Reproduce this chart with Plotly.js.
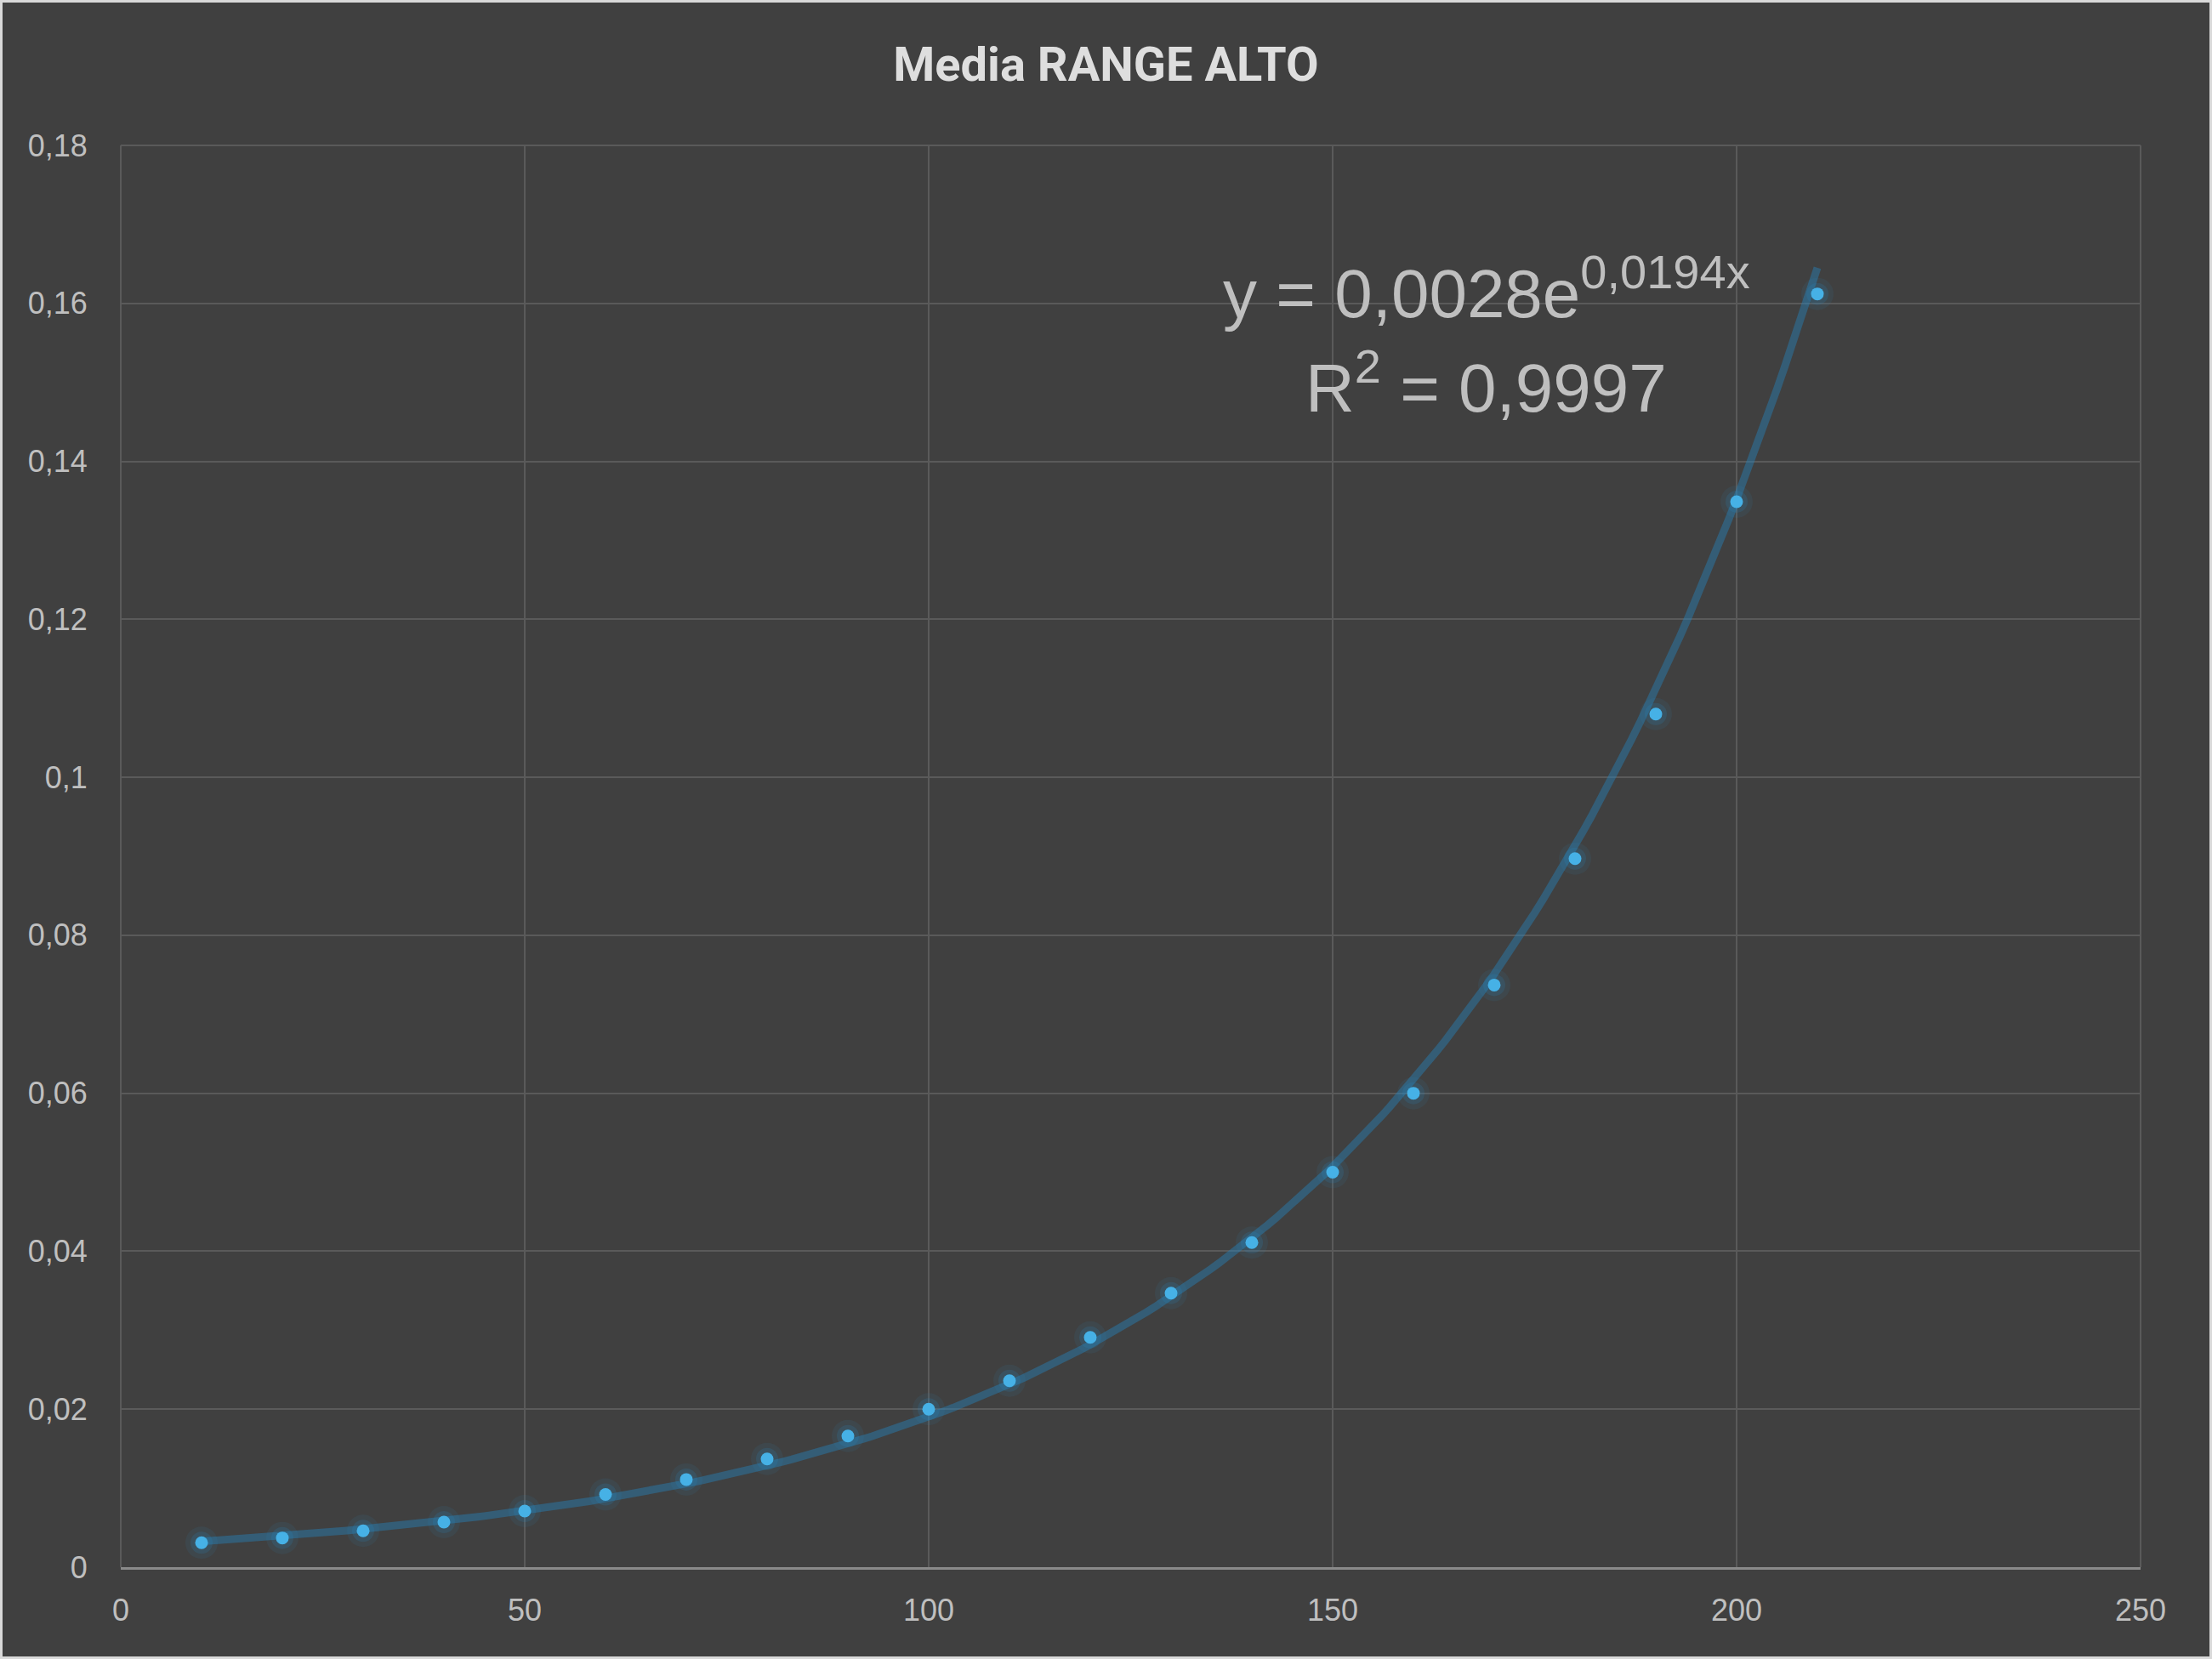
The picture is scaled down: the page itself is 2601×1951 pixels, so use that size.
<!DOCTYPE html>
<html>
<head>
<meta charset="utf-8">
<script src="https://cdn.plot.ly/plotly-3.0.1.min.js"></script>
<style>
  html, body { margin: 0; padding: 0; background: #d9d9d9; }
  #chart { position: absolute; left: 3px; top: 3px; width: 2595px; height: 1945px; }
</style>
</head>
<body>
<div id="chart"></div>
<script>
// ---- data ----
const xValues = [10, 20, 30, 40, 50, 60, 70, 80, 90, 100, 110, 120, 130, 140, 150, 160, 170, 180, 190, 200, 210];
const yValues = [0.0031, 0.0037, 0.0046, 0.0057, 0.0071, 0.0092, 0.0111, 0.0137, 0.0166, 0.0200, 0.0236, 0.0291, 0.0347, 0.0411, 0.0500, 0.0600, 0.0737, 0.0897, 0.1080, 0.1349, 0.1612];
const titleText = "Media RANGE ALTO";
const equationLines = ["y = 0,0028e<sup>0,0194x</sup>", "R<sup>2</sup> = 0,9997"];
const xTicks = [0, 50, 100, 150, 200, 250];
const yTicks = [0, 0.02, 0.04, 0.06, 0.08, 0.1, 0.12, 0.14, 0.16, 0.18];

// ---- exponential trendline fitted to the data (least squares on ln y) ----
function expFit(xs, ys) {
  const n = xs.length;
  let sx = 0, sy = 0, sxx = 0, sxy = 0;
  for (let i = 0; i < n; i++) {
    const ly = Math.log(ys[i]);
    sx += xs[i]; sy += ly; sxx += xs[i] * xs[i]; sxy += xs[i] * ly;
  }
  const b = (n * sxy - sx * sy) / (n * sxx - sx * sx);
  const a = Math.exp((sy - b * sx) / n);
  return { a, b };
}
const fit = expFit(xValues, yValues);
const xMin = Math.min(...xValues), xMax = Math.max(...xValues);
const trendX = [], trendY = [];
for (let i = 0; i <= 200; i++) {
  const x = xMin + (xMax - xMin) * i / 200;
  trendX.push(x);
  trendY.push(fit.a * Math.exp(fit.b * x));
}

const traces = [
  { x: trendX, y: trendY, mode: 'lines', type: 'scatter',
    line: { color: 'rgba(38,128,185,0.45)', width: 9, shape: 'linear' }, hoverinfo: 'skip' },
  { x: xValues, y: yValues, mode: 'markers', type: 'scatter',
    marker: { size: 38, color: 'rgba(40,140,205,0.09)', line: { width: 0 } }, hoverinfo: 'skip' },
  { x: xValues, y: yValues, mode: 'markers', type: 'scatter',
    marker: { size: 26, color: 'rgba(40,140,205,0.16)', line: { width: 0 } }, hoverinfo: 'skip' },
  { x: xValues, y: yValues, mode: 'markers', type: 'scatter',
    marker: { size: 15, color: '#46b1e6', line: { width: 0 } } }
];

const tickFont = { family: 'Liberation Sans, Arial, sans-serif', size: 36, color: '#bfbfbf' };
const eqFont = { family: 'Liberation Sans, Arial, sans-serif', size: 80, color: '#bfbfbf' };

const layout = {
  width: 2595, height: 1945,
  paper_bgcolor: '#404040', plot_bgcolor: '#404040',
  margin: { l: 139, r: 81, t: 168, b: 105, pad: 0 },
  separators: ',.',
  showlegend: false,
  hovermode: false,
  title: {
    text: titleText,
    font: { family: 'Roboto, Liberation Sans, sans-serif', size: 56, color: '#dedede', weight: 700 },
    x: 0.5, xanchor: 'center', xref: 'container',
    y: 1 - 72 / 1945, yanchor: 'middle', yref: 'container'
  },
  xaxis: {
    range: [0, 250], tickvals: xTicks, ticktext: xTicks.map(String),
    showgrid: true, gridcolor: '#5a5a5a', gridwidth: 2,
    zeroline: false, showline: true, linecolor: '#8a8a8a', linewidth: 3,
    ticks: 'outside', ticklen: 17, tickcolor: 'rgba(0,0,0,0)',
    tickfont: tickFont, fixedrange: true
  },
  yaxis: {
    range: [0, 0.18], tickvals: yTicks,
    showgrid: true, gridcolor: '#5a5a5a', gridwidth: 2,
    zeroline: false, showline: false,
    ticks: 'outside', ticklen: 31, tickcolor: 'rgba(0,0,0,0)',
    tickfont: tickFont, fixedrange: true
  },
  shapes: [
    { type: 'line', xref: 'paper', yref: 'paper', x0: 0, x1: 0, y0: 0, y1: 1,
      line: { color: '#5a5a5a', width: 2 } },
    { type: 'line', xref: 'paper', yref: 'paper', x0: 1, x1: 1, y0: 0, y1: 1,
      line: { color: '#5a5a5a', width: 2 } },
    { type: 'line', xref: 'paper', yref: 'paper', x0: 0, x1: 1, y0: 1, y1: 1,
      line: { color: '#5a5a5a', width: 2 } }
  ],
  annotations: [
    { text: equationLines[0], xref: 'x', yref: 'y', x: 169.1, y: 0.1562,
      xanchor: 'center', yanchor: 'bottom', align: 'center', showarrow: false, font: eqFont },
    { text: equationLines[1], xref: 'x', yref: 'y', x: 169, y: 0.1443,
      xanchor: 'center', yanchor: 'bottom', align: 'center', showarrow: false, font: eqFont }
  ]
};

Plotly.newPlot('chart', traces, layout, { displayModeBar: false, staticPlot: true });
</script>
</body>
</html>
